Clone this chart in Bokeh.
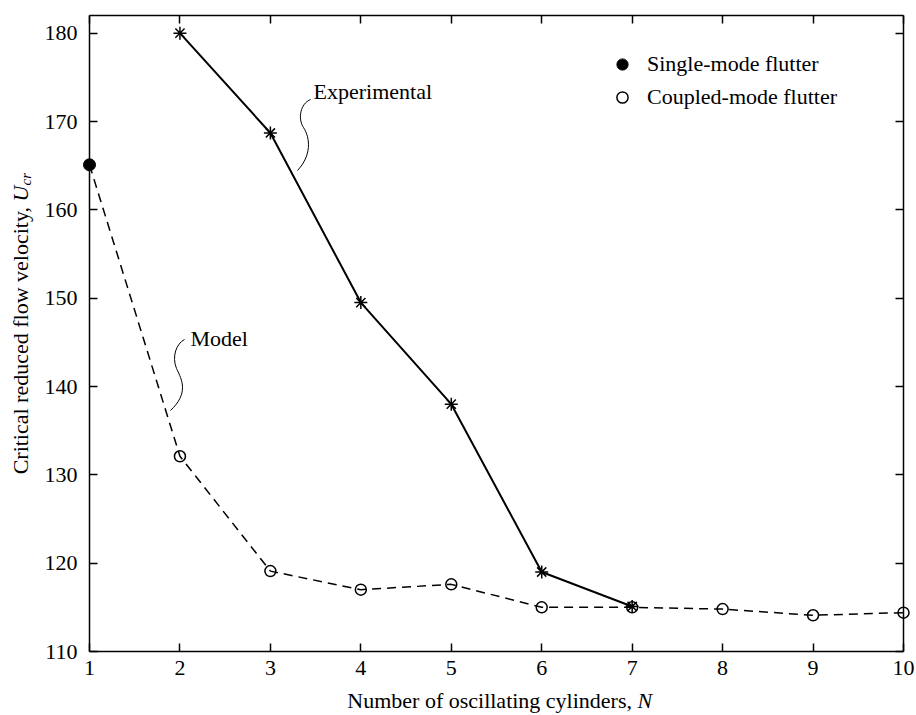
import numpy as np
from bokeh.plotting import figure
from bokeh.models import (LinearAxis, Range1d, Label, Legend, LegendItem,
                          FixedTicker)
from bokeh.embed import file_html
from bokeh.resources import INLINE

# ---- data -------------------------------------------------------------
# model: single-mode flutter (N = 1) followed by coupled-mode flutter
single_n = [1]
single_u = [165.1]
coupled_n = [2, 3, 4, 5, 6, 7, 8, 9, 10]
coupled_u = [132.1, 119.1, 117.0, 117.6, 115.0, 115.0, 114.8, 114.1, 114.4]
model_n = single_n + coupled_n
model_u = single_u + coupled_u

# experiments
exp_n = [2, 3, 4, 5, 6, 7]
exp_u = [180.0, 168.7, 149.5, 138.0, 119.0, 115.1]

x_ticks = [1, 2, 3, 4, 5, 6, 7, 8, 9, 10]
y_ticks = [110, 120, 130, 140, 150, 160, 170, 180]

FONT = "Liberation Serif"
FS = "22px"

# ---- layout -----------------------------------------------------------
# The canvas is one big frame; the axes are pinned (fixed_location) to the
# edges of the data box so that titles around it can be drawn as labels.
W, H = 916, 715
BOX_L, BOX_R, BOX_T, BOX_B = 89, 903, 15, 651      # data box in canvas pixels
X0, X1 = 1, 10
Y0, Y1 = 110, 182
SX = (BOX_R - BOX_L) / (X1 - X0)
SY = (BOX_B - BOX_T) / (Y1 - Y0)


def dx(px):
    """canvas pixel column -> x data value"""
    return X0 + (px - BOX_L) / SX


def dy(py):
    """canvas pixel row -> y data value"""
    return Y0 + (BOX_B - py) / SY


p = figure(width=W, height=H,
           x_range=Range1d(dx(0), dx(W)), y_range=Range1d(dy(H), dy(0)),
           output_backend="svg", toolbar_location=None,
           min_border=0, min_border_left=0, min_border_right=0,
           min_border_top=0, min_border_bottom=0)
p.xgrid.visible = False
p.ygrid.visible = False
p.outline_line_color = None
p.background_fill_color = "white"
p.border_fill_color = "white"


def style_axis(ax, ticks, bounds, where, labels=True):
    ax.ticker = FixedTicker(ticks=ticks)
    ax.bounds = bounds
    ax.fixed_location = where
    ax.major_tick_in = 8
    ax.major_tick_out = 0
    ax.minor_tick_in = 0
    ax.minor_tick_out = 0
    ax.axis_line_color = "black"
    ax.axis_line_width = 1.5
    ax.major_tick_line_color = "black"
    ax.major_tick_line_width = 1.5
    ax.major_label_text_font = FONT
    ax.major_label_text_font_size = FS
    if labels:
        ax.major_label_text_color = "black"
    else:
        ax.major_label_text_color = None


style_axis(p.xaxis[0], x_ticks, (X0, X1), Y0)
style_axis(p.yaxis[0], y_ticks, (Y0, Y1), X0)
p.xaxis[0].major_label_standoff = 9
p.yaxis[0].major_label_standoff = 12

top_axis = LinearAxis()
style_axis(top_axis, x_ticks, (X0, X1), Y1, labels=False)
p.add_layout(top_axis, "above")
right_axis = LinearAxis()
style_axis(right_axis, y_ticks, (Y0, Y1), X1, labels=False)
p.add_layout(right_axis, "right")

# ---- curves -----------------------------------------------------------
p.line(model_n, model_u, line_color="black", line_width=1.5, line_dash="9 6")
p.line(exp_n, exp_u, line_color="black", line_width=2)

r_coupled = p.scatter(coupled_n, coupled_u, marker="circle", size=11,
                      line_color="black", line_width=1.5, fill_color=None)
r_single = p.scatter(single_n, single_u, marker="circle", size=12,
                     line_color="black", fill_color="black")
p.scatter(exp_n, exp_u, marker="asterisk", size=13, line_color="black",
          line_width=1.5)

# ---- legend -----------------------------------------------------------
legend = Legend(items=[LegendItem(label="Single-mode flutter", renderers=[r_single]),
                       LegendItem(label="Coupled-mode flutter", renderers=[r_coupled])],
                location=(608, 604), glyph_width=28, glyph_height=28, spacing=5,
                padding=0, margin=0, label_standoff=11,
                label_text_font=FONT, label_text_font_size=FS,
                label_text_color="black",
                background_fill_alpha=0, border_line_alpha=0)
p.add_layout(legend)


def text(px, py, s, **kw):
    """text label placed at a canvas pixel position"""
    opts = dict(text_font=FONT, text_font_size=FS, text_color="black",
                text_baseline="alphabetic")
    opts.update(kw)
    p.add_layout(Label(x=dx(px), y=dy(py), text=s, **opts))


# ---- curve callouts ---------------------------------------------------
text(313, 91, "Experimental")
text(190, 338, "Model")

# wavy leader lines, two cubic pieces each (pixel control points)
leaders = [
    [(310, 99), (300, 103), (297, 118), (303, 127)],
    [(303, 127), (310, 138), (311, 155), (297, 170)],
    [(184, 339), (176, 343), (171, 356), (176, 368)],
    [(176, 368), (182, 380), (188, 393), (170, 410)],
]
p.bezier(x0=[dx(s[0][0]) for s in leaders], y0=[dy(s[0][1]) for s in leaders],
         cx0=[dx(s[1][0]) for s in leaders], cy0=[dy(s[1][1]) for s in leaders],
         cx1=[dx(s[2][0]) for s in leaders], cy1=[dy(s[2][1]) for s in leaders],
         x1=[dx(s[3][0]) for s in leaders], y1=[dy(s[3][1]) for s in leaders],
         line_color="black", line_width=1)

# ---- axis titles (mixed upright / italic) -------------------------------
join_x, base_y = 637, 700
text(join_x, base_y, "Number of oscillating cylinders, ", text_align="right")
text(join_x, base_y, "N", text_font_style="italic", text_align="left")

join_y, base_x = 201, 20
text(base_x, join_y, "Critical reduced flow velocity, ", angle=np.pi / 2,
     text_align="right")
text(base_x, join_y, "U", angle=np.pi / 2, text_font_style="italic",
     text_align="left")
text(base_x + 5, join_y - 16, "cr", angle=np.pi / 2, text_font_style="italic",
     text_font_size="15px", text_align="left")

open("out.html", "w").write(file_html(p, INLINE))
